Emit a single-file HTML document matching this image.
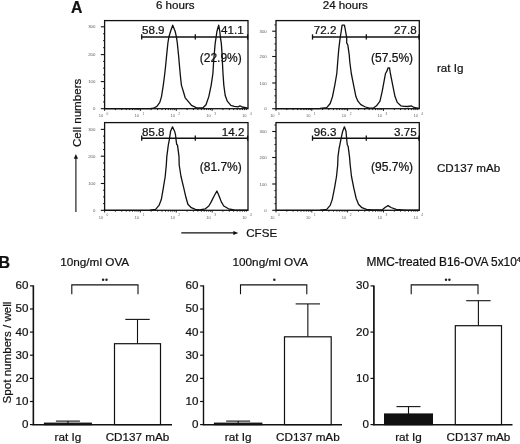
<!DOCTYPE html><html><head><meta charset="utf-8"><style>
html,body{margin:0;padding:0;background:#fff;overflow:hidden;width:520px;height:444px;}
svg{display:block;font-family:"Liberation Sans", sans-serif;will-change:transform;}
text{stroke:#111;stroke-width:0.22px;paint-order:stroke;} text.t{stroke:none;}
</style></head><body>
<svg width="520" height="444" viewBox="0 0 520 444">
<rect width="520" height="444" fill="#fff"/>
<text x="71.1" y="12.6" font-size="15.8" font-weight="bold" fill="#111">A</text>
<text x="175.3" y="8.6" font-size="11.6" text-anchor="middle" fill="#111">6 hours</text>
<text x="345.3" y="8.6" font-size="11.6" text-anchor="middle" fill="#111">24 hours</text>
<text x="437" y="72.3" font-size="11.6" fill="#111">rat Ig</text>
<text x="437" y="172.4" font-size="11.6" fill="#111">CD137 mAb</text>
<text transform="translate(81.2,147) rotate(-90)" font-size="11.6" fill="#111">Cell numbers</text>
<line x1="75.9" y1="212" x2="75.9" y2="158" stroke="#222" stroke-width="1.2"/>
<path d="M73.8,158.7 L75.9,154.0 L78.0,158.7 Z" fill="#111"/>
<line x1="181.3" y1="232.9" x2="234" y2="232.9" stroke="#111" stroke-width="1.4"/>
<path d="M233.3,230.9 L238.3,232.9 L233.3,234.9 Z" fill="#111"/>
<text x="246.2" y="237.3" font-size="11.6" fill="#111">CFSE</text>
<line x1="100.8" y1="26.8" x2="104.6" y2="26.8" stroke="#111" stroke-width="1.1"/>
<line x1="100.8" y1="54.6" x2="104.6" y2="54.6" stroke="#111" stroke-width="1.1"/>
<line x1="100.8" y1="81.6" x2="104.6" y2="81.6" stroke="#111" stroke-width="1.1"/>
<line x1="100.8" y1="108.7" x2="104.6" y2="108.7" stroke="#111" stroke-width="1.1"/>
<line x1="103.0" y1="33.8" x2="104.6" y2="33.8" stroke="#111" stroke-width="0.9"/>
<line x1="103.0" y1="40.7" x2="104.6" y2="40.7" stroke="#111" stroke-width="0.9"/>
<line x1="103.0" y1="47.7" x2="104.6" y2="47.7" stroke="#111" stroke-width="0.9"/>
<line x1="103.0" y1="61.4" x2="104.6" y2="61.4" stroke="#111" stroke-width="0.9"/>
<line x1="103.0" y1="68.1" x2="104.6" y2="68.1" stroke="#111" stroke-width="0.9"/>
<line x1="103.0" y1="74.8" x2="104.6" y2="74.8" stroke="#111" stroke-width="0.9"/>
<line x1="103.0" y1="88.4" x2="104.6" y2="88.4" stroke="#111" stroke-width="0.9"/>
<line x1="103.0" y1="95.2" x2="104.6" y2="95.2" stroke="#111" stroke-width="0.9"/>
<line x1="103.0" y1="101.9" x2="104.6" y2="101.9" stroke="#111" stroke-width="0.9"/>
<text x="95.3" y="28.3" class="t" font-size="4.3" text-anchor="end" fill="#555">300</text>
<text x="95.3" y="56.1" class="t" font-size="4.3" text-anchor="end" fill="#555">200</text>
<text x="95.3" y="83.1" class="t" font-size="4.3" text-anchor="end" fill="#555">100</text>
<text x="95.3" y="110.2" class="t" font-size="4.3" text-anchor="end" fill="#555">0</text>
<line x1="104.6" y1="108.7" x2="104.6" y2="110.9" stroke="#111" stroke-width="0.9"/>
<line x1="115.4" y1="108.7" x2="115.4" y2="110.10000000000001" stroke="#111" stroke-width="0.9"/>
<line x1="121.7" y1="108.7" x2="121.7" y2="110.10000000000001" stroke="#111" stroke-width="0.9"/>
<line x1="126.2" y1="108.7" x2="126.2" y2="110.10000000000001" stroke="#111" stroke-width="0.9"/>
<line x1="129.7" y1="108.7" x2="129.7" y2="110.10000000000001" stroke="#111" stroke-width="0.9"/>
<line x1="132.5" y1="108.7" x2="132.5" y2="110.10000000000001" stroke="#111" stroke-width="0.9"/>
<line x1="134.9" y1="108.7" x2="134.9" y2="110.10000000000001" stroke="#111" stroke-width="0.9"/>
<line x1="137.0" y1="108.7" x2="137.0" y2="110.10000000000001" stroke="#111" stroke-width="0.9"/>
<line x1="138.8" y1="108.7" x2="138.8" y2="110.10000000000001" stroke="#111" stroke-width="0.9"/>
<line x1="140.4" y1="108.7" x2="140.4" y2="110.9" stroke="#111" stroke-width="0.9"/>
<line x1="151.2" y1="108.7" x2="151.2" y2="110.10000000000001" stroke="#111" stroke-width="0.9"/>
<line x1="157.6" y1="108.7" x2="157.6" y2="110.10000000000001" stroke="#111" stroke-width="0.9"/>
<line x1="162.0" y1="108.7" x2="162.0" y2="110.10000000000001" stroke="#111" stroke-width="0.9"/>
<line x1="165.5" y1="108.7" x2="165.5" y2="110.10000000000001" stroke="#111" stroke-width="0.9"/>
<line x1="168.3" y1="108.7" x2="168.3" y2="110.10000000000001" stroke="#111" stroke-width="0.9"/>
<line x1="170.7" y1="108.7" x2="170.7" y2="110.10000000000001" stroke="#111" stroke-width="0.9"/>
<line x1="172.8" y1="108.7" x2="172.8" y2="110.10000000000001" stroke="#111" stroke-width="0.9"/>
<line x1="174.7" y1="108.7" x2="174.7" y2="110.10000000000001" stroke="#111" stroke-width="0.9"/>
<line x1="176.3" y1="108.7" x2="176.3" y2="110.9" stroke="#111" stroke-width="0.9"/>
<line x1="187.1" y1="108.7" x2="187.1" y2="110.10000000000001" stroke="#111" stroke-width="0.9"/>
<line x1="193.4" y1="108.7" x2="193.4" y2="110.10000000000001" stroke="#111" stroke-width="0.9"/>
<line x1="197.9" y1="108.7" x2="197.9" y2="110.10000000000001" stroke="#111" stroke-width="0.9"/>
<line x1="201.4" y1="108.7" x2="201.4" y2="110.10000000000001" stroke="#111" stroke-width="0.9"/>
<line x1="204.2" y1="108.7" x2="204.2" y2="110.10000000000001" stroke="#111" stroke-width="0.9"/>
<line x1="206.6" y1="108.7" x2="206.6" y2="110.10000000000001" stroke="#111" stroke-width="0.9"/>
<line x1="208.7" y1="108.7" x2="208.7" y2="110.10000000000001" stroke="#111" stroke-width="0.9"/>
<line x1="210.5" y1="108.7" x2="210.5" y2="110.10000000000001" stroke="#111" stroke-width="0.9"/>
<line x1="212.2" y1="108.7" x2="212.2" y2="110.9" stroke="#111" stroke-width="0.9"/>
<line x1="222.9" y1="108.7" x2="222.9" y2="110.10000000000001" stroke="#111" stroke-width="0.9"/>
<line x1="229.3" y1="108.7" x2="229.3" y2="110.10000000000001" stroke="#111" stroke-width="0.9"/>
<line x1="233.7" y1="108.7" x2="233.7" y2="110.10000000000001" stroke="#111" stroke-width="0.9"/>
<line x1="237.2" y1="108.7" x2="237.2" y2="110.10000000000001" stroke="#111" stroke-width="0.9"/>
<line x1="240.0" y1="108.7" x2="240.0" y2="110.10000000000001" stroke="#111" stroke-width="0.9"/>
<line x1="242.4" y1="108.7" x2="242.4" y2="110.10000000000001" stroke="#111" stroke-width="0.9"/>
<line x1="244.5" y1="108.7" x2="244.5" y2="110.10000000000001" stroke="#111" stroke-width="0.9"/>
<line x1="246.4" y1="108.7" x2="246.4" y2="110.10000000000001" stroke="#111" stroke-width="0.9"/>
<text x="103.19999999999999" y="117.0" class="t" font-size="4.0" text-anchor="end" fill="#666">10</text>
<text x="106.6" y="114.7" class="t" font-size="3.2" fill="#666">0</text>
<text x="139.04999999999998" y="117.0" class="t" font-size="4.0" text-anchor="end" fill="#666">10</text>
<text x="142.45" y="114.7" class="t" font-size="3.2" fill="#666">1</text>
<text x="174.9" y="117.0" class="t" font-size="4.0" text-anchor="end" fill="#666">10</text>
<text x="178.3" y="114.7" class="t" font-size="3.2" fill="#666">2</text>
<text x="210.75" y="117.0" class="t" font-size="4.0" text-anchor="end" fill="#666">10</text>
<text x="214.15" y="114.7" class="t" font-size="3.2" fill="#666">3</text>
<text x="246.6" y="117.0" class="t" font-size="4.0" text-anchor="end" fill="#666">10</text>
<text x="250.0" y="114.7" class="t" font-size="3.2" fill="#666">4</text>
<rect x="104.6" y="20.6" width="143.4" height="88.1" fill="none" stroke="#111" stroke-width="1.3"/>
<line x1="141.7" y1="37.0" x2="247.6" y2="37.0" stroke="#111" stroke-width="1.4"/>
<line x1="141.7" y1="34.3" x2="141.7" y2="39.6" stroke="#111" stroke-width="1.3"/>
<line x1="195.3" y1="34.3" x2="195.3" y2="39.6" stroke="#111" stroke-width="1.3"/>
<line x1="247.6" y1="34.3" x2="247.6" y2="39.6" stroke="#111" stroke-width="1.3"/>
<polyline points="104.6,108.7 150.0,108.6 153.5,108.2 156.9,106.4 159.8,102.4 161.5,96.6 163.3,85.1 164.6,75.0 165.6,66.0 166.7,54.6 167.9,43.0 168.8,37.3 170.5,31.5 172.7,25.2 175.2,31.5 176.5,37.3 177.3,43.0 178.5,54.6 179.5,66.0 180.3,75.0 181.4,85.1 183.5,92.0 185.2,97.8 188.0,101.2 191.5,105.3 196.2,107.6 203.0,107.8 206.0,104.7 208.8,96.6 211.2,85.1 212.9,73.5 213.6,62.0 214.2,54.6 215.2,43.1 216.1,37.3 216.9,31.5 218.7,25.2 219.8,31.5 220.4,37.3 221.3,43.1 222.1,54.6 222.4,62.0 223.0,73.5 223.8,85.1 225.2,95.5 227.3,101.2 230.8,105.3 234.2,106.4 238.0,106.8 240.0,105.8 242.0,107.0 245.8,107.6 248.0,108.4" fill="none" stroke="#111" stroke-width="1.3" stroke-linejoin="round"/>
<text x="142.0" y="34.3" font-size="11.6" fill="#111">58.9</text>
<text x="243.6" y="34.3" font-size="11.6" text-anchor="end" fill="#111">41.1</text>
<text x="241.8" y="62.3" font-size="12" text-anchor="end" fill="#111">(22.9%)</text>
<line x1="272.2" y1="31.2" x2="276.0" y2="31.2" stroke="#111" stroke-width="1.1"/>
<line x1="272.2" y1="56.5" x2="276.0" y2="56.5" stroke="#111" stroke-width="1.1"/>
<line x1="272.2" y1="83.0" x2="276.0" y2="83.0" stroke="#111" stroke-width="1.1"/>
<line x1="272.2" y1="108.7" x2="276.0" y2="108.7" stroke="#111" stroke-width="1.1"/>
<line x1="274.4" y1="37.5" x2="276.0" y2="37.5" stroke="#111" stroke-width="0.9"/>
<line x1="274.4" y1="43.9" x2="276.0" y2="43.9" stroke="#111" stroke-width="0.9"/>
<line x1="274.4" y1="50.2" x2="276.0" y2="50.2" stroke="#111" stroke-width="0.9"/>
<line x1="274.4" y1="63.1" x2="276.0" y2="63.1" stroke="#111" stroke-width="0.9"/>
<line x1="274.4" y1="69.8" x2="276.0" y2="69.8" stroke="#111" stroke-width="0.9"/>
<line x1="274.4" y1="76.4" x2="276.0" y2="76.4" stroke="#111" stroke-width="0.9"/>
<line x1="274.4" y1="89.4" x2="276.0" y2="89.4" stroke="#111" stroke-width="0.9"/>
<line x1="274.4" y1="95.8" x2="276.0" y2="95.8" stroke="#111" stroke-width="0.9"/>
<line x1="274.4" y1="102.3" x2="276.0" y2="102.3" stroke="#111" stroke-width="0.9"/>
<line x1="274.4" y1="24.9" x2="276.0" y2="24.9" stroke="#111" stroke-width="0.9"/>
<text x="266.7" y="32.7" class="t" font-size="4.3" text-anchor="end" fill="#555">300</text>
<text x="266.7" y="58.0" class="t" font-size="4.3" text-anchor="end" fill="#555">200</text>
<text x="266.7" y="84.5" class="t" font-size="4.3" text-anchor="end" fill="#555">100</text>
<text x="266.7" y="110.2" class="t" font-size="4.3" text-anchor="end" fill="#555">0</text>
<line x1="276.0" y1="108.7" x2="276.0" y2="110.9" stroke="#111" stroke-width="0.9"/>
<line x1="286.8" y1="108.7" x2="286.8" y2="110.10000000000001" stroke="#111" stroke-width="0.9"/>
<line x1="293.1" y1="108.7" x2="293.1" y2="110.10000000000001" stroke="#111" stroke-width="0.9"/>
<line x1="297.6" y1="108.7" x2="297.6" y2="110.10000000000001" stroke="#111" stroke-width="0.9"/>
<line x1="301.0" y1="108.7" x2="301.0" y2="110.10000000000001" stroke="#111" stroke-width="0.9"/>
<line x1="303.9" y1="108.7" x2="303.9" y2="110.10000000000001" stroke="#111" stroke-width="0.9"/>
<line x1="306.3" y1="108.7" x2="306.3" y2="110.10000000000001" stroke="#111" stroke-width="0.9"/>
<line x1="308.4" y1="108.7" x2="308.4" y2="110.10000000000001" stroke="#111" stroke-width="0.9"/>
<line x1="310.2" y1="108.7" x2="310.2" y2="110.10000000000001" stroke="#111" stroke-width="0.9"/>
<line x1="311.8" y1="108.7" x2="311.8" y2="110.9" stroke="#111" stroke-width="0.9"/>
<line x1="322.6" y1="108.7" x2="322.6" y2="110.10000000000001" stroke="#111" stroke-width="0.9"/>
<line x1="328.9" y1="108.7" x2="328.9" y2="110.10000000000001" stroke="#111" stroke-width="0.9"/>
<line x1="333.4" y1="108.7" x2="333.4" y2="110.10000000000001" stroke="#111" stroke-width="0.9"/>
<line x1="336.9" y1="108.7" x2="336.9" y2="110.10000000000001" stroke="#111" stroke-width="0.9"/>
<line x1="339.7" y1="108.7" x2="339.7" y2="110.10000000000001" stroke="#111" stroke-width="0.9"/>
<line x1="342.1" y1="108.7" x2="342.1" y2="110.10000000000001" stroke="#111" stroke-width="0.9"/>
<line x1="344.2" y1="108.7" x2="344.2" y2="110.10000000000001" stroke="#111" stroke-width="0.9"/>
<line x1="346.0" y1="108.7" x2="346.0" y2="110.10000000000001" stroke="#111" stroke-width="0.9"/>
<line x1="347.6" y1="108.7" x2="347.6" y2="110.9" stroke="#111" stroke-width="0.9"/>
<line x1="358.4" y1="108.7" x2="358.4" y2="110.10000000000001" stroke="#111" stroke-width="0.9"/>
<line x1="364.7" y1="108.7" x2="364.7" y2="110.10000000000001" stroke="#111" stroke-width="0.9"/>
<line x1="369.2" y1="108.7" x2="369.2" y2="110.10000000000001" stroke="#111" stroke-width="0.9"/>
<line x1="372.7" y1="108.7" x2="372.7" y2="110.10000000000001" stroke="#111" stroke-width="0.9"/>
<line x1="375.5" y1="108.7" x2="375.5" y2="110.10000000000001" stroke="#111" stroke-width="0.9"/>
<line x1="377.9" y1="108.7" x2="377.9" y2="110.10000000000001" stroke="#111" stroke-width="0.9"/>
<line x1="380.0" y1="108.7" x2="380.0" y2="110.10000000000001" stroke="#111" stroke-width="0.9"/>
<line x1="381.8" y1="108.7" x2="381.8" y2="110.10000000000001" stroke="#111" stroke-width="0.9"/>
<line x1="383.5" y1="108.7" x2="383.5" y2="110.9" stroke="#111" stroke-width="0.9"/>
<line x1="394.3" y1="108.7" x2="394.3" y2="110.10000000000001" stroke="#111" stroke-width="0.9"/>
<line x1="400.6" y1="108.7" x2="400.6" y2="110.10000000000001" stroke="#111" stroke-width="0.9"/>
<line x1="405.0" y1="108.7" x2="405.0" y2="110.10000000000001" stroke="#111" stroke-width="0.9"/>
<line x1="408.5" y1="108.7" x2="408.5" y2="110.10000000000001" stroke="#111" stroke-width="0.9"/>
<line x1="411.4" y1="108.7" x2="411.4" y2="110.10000000000001" stroke="#111" stroke-width="0.9"/>
<line x1="413.8" y1="108.7" x2="413.8" y2="110.10000000000001" stroke="#111" stroke-width="0.9"/>
<line x1="415.8" y1="108.7" x2="415.8" y2="110.10000000000001" stroke="#111" stroke-width="0.9"/>
<line x1="417.7" y1="108.7" x2="417.7" y2="110.10000000000001" stroke="#111" stroke-width="0.9"/>
<text x="274.6" y="117.0" class="t" font-size="4.0" text-anchor="end" fill="#666">10</text>
<text x="278.0" y="114.7" class="t" font-size="3.2" fill="#666">0</text>
<text x="310.425" y="117.0" class="t" font-size="4.0" text-anchor="end" fill="#666">10</text>
<text x="313.825" y="114.7" class="t" font-size="3.2" fill="#666">1</text>
<text x="346.25" y="117.0" class="t" font-size="4.0" text-anchor="end" fill="#666">10</text>
<text x="349.65" y="114.7" class="t" font-size="3.2" fill="#666">2</text>
<text x="382.07500000000005" y="117.0" class="t" font-size="4.0" text-anchor="end" fill="#666">10</text>
<text x="385.475" y="114.7" class="t" font-size="3.2" fill="#666">3</text>
<text x="417.90000000000003" y="117.0" class="t" font-size="4.0" text-anchor="end" fill="#666">10</text>
<text x="421.3" y="114.7" class="t" font-size="3.2" fill="#666">4</text>
<rect x="276.0" y="20.6" width="143.3" height="88.1" fill="none" stroke="#111" stroke-width="1.3"/>
<line x1="312.5" y1="37.0" x2="419.0" y2="37.0" stroke="#111" stroke-width="1.4"/>
<line x1="312.5" y1="34.3" x2="312.5" y2="39.6" stroke="#111" stroke-width="1.3"/>
<line x1="366.3" y1="34.3" x2="366.3" y2="39.6" stroke="#111" stroke-width="1.3"/>
<line x1="419.0" y1="34.3" x2="419.0" y2="39.6" stroke="#111" stroke-width="1.3"/>
<polyline points="276.0,108.7 320.0,108.5 326.7,107.6 330.2,103.5 332.5,96.6 334.8,85.1 336.8,73.5 337.7,62.0 338.8,48.8 340.2,37.3 341.2,31.5 342.1,25.2 344.4,25.2 345.0,28.0 346.0,33.8 346.7,37.3 346.7,43.0 347.8,44.8 349.2,54.6 349.8,62.0 351.3,73.5 353.6,85.1 355.9,96.6 357.9,101.2 360.8,104.7 365.4,107.0 369.4,108.2 373.1,108.2 376.5,105.8 380.0,101.2 382.3,90.8 384.4,79.3 385.5,73.5 386.9,71.2 388.1,67.8 389.5,67.8 390.4,73.5 392.7,85.1 395.0,96.6 397.3,102.4 400.8,105.8 404.2,106.4 408.0,106.5 411.2,105.8 414.0,107.5 419.0,108.4" fill="none" stroke="#111" stroke-width="1.3" stroke-linejoin="round"/>
<text x="313.8" y="34.3" font-size="11.6" fill="#111">72.2</text>
<text x="416.6" y="34.3" font-size="11.6" text-anchor="end" fill="#111">27.8</text>
<text x="413.1" y="62.3" font-size="12" text-anchor="end" fill="#111">(57.5%)</text>
<line x1="100.8" y1="129.4" x2="104.6" y2="129.4" stroke="#111" stroke-width="1.1"/>
<line x1="100.8" y1="156.2" x2="104.6" y2="156.2" stroke="#111" stroke-width="1.1"/>
<line x1="100.8" y1="183.5" x2="104.6" y2="183.5" stroke="#111" stroke-width="1.1"/>
<line x1="100.8" y1="210.3" x2="104.6" y2="210.3" stroke="#111" stroke-width="1.1"/>
<line x1="103.0" y1="136.1" x2="104.6" y2="136.1" stroke="#111" stroke-width="0.9"/>
<line x1="103.0" y1="142.8" x2="104.6" y2="142.8" stroke="#111" stroke-width="0.9"/>
<line x1="103.0" y1="149.5" x2="104.6" y2="149.5" stroke="#111" stroke-width="0.9"/>
<line x1="103.0" y1="163.0" x2="104.6" y2="163.0" stroke="#111" stroke-width="0.9"/>
<line x1="103.0" y1="169.8" x2="104.6" y2="169.8" stroke="#111" stroke-width="0.9"/>
<line x1="103.0" y1="176.7" x2="104.6" y2="176.7" stroke="#111" stroke-width="0.9"/>
<line x1="103.0" y1="190.2" x2="104.6" y2="190.2" stroke="#111" stroke-width="0.9"/>
<line x1="103.0" y1="196.9" x2="104.6" y2="196.9" stroke="#111" stroke-width="0.9"/>
<line x1="103.0" y1="203.6" x2="104.6" y2="203.6" stroke="#111" stroke-width="0.9"/>
<text x="95.3" y="130.9" class="t" font-size="4.3" text-anchor="end" fill="#555">300</text>
<text x="95.3" y="157.7" class="t" font-size="4.3" text-anchor="end" fill="#555">200</text>
<text x="95.3" y="185.0" class="t" font-size="4.3" text-anchor="end" fill="#555">100</text>
<text x="95.3" y="211.8" class="t" font-size="4.3" text-anchor="end" fill="#555">0</text>
<line x1="104.6" y1="210.3" x2="104.6" y2="212.5" stroke="#111" stroke-width="0.9"/>
<line x1="115.4" y1="210.3" x2="115.4" y2="211.70000000000002" stroke="#111" stroke-width="0.9"/>
<line x1="121.7" y1="210.3" x2="121.7" y2="211.70000000000002" stroke="#111" stroke-width="0.9"/>
<line x1="126.2" y1="210.3" x2="126.2" y2="211.70000000000002" stroke="#111" stroke-width="0.9"/>
<line x1="129.7" y1="210.3" x2="129.7" y2="211.70000000000002" stroke="#111" stroke-width="0.9"/>
<line x1="132.5" y1="210.3" x2="132.5" y2="211.70000000000002" stroke="#111" stroke-width="0.9"/>
<line x1="134.9" y1="210.3" x2="134.9" y2="211.70000000000002" stroke="#111" stroke-width="0.9"/>
<line x1="137.0" y1="210.3" x2="137.0" y2="211.70000000000002" stroke="#111" stroke-width="0.9"/>
<line x1="138.8" y1="210.3" x2="138.8" y2="211.70000000000002" stroke="#111" stroke-width="0.9"/>
<line x1="140.4" y1="210.3" x2="140.4" y2="212.5" stroke="#111" stroke-width="0.9"/>
<line x1="151.2" y1="210.3" x2="151.2" y2="211.70000000000002" stroke="#111" stroke-width="0.9"/>
<line x1="157.6" y1="210.3" x2="157.6" y2="211.70000000000002" stroke="#111" stroke-width="0.9"/>
<line x1="162.0" y1="210.3" x2="162.0" y2="211.70000000000002" stroke="#111" stroke-width="0.9"/>
<line x1="165.5" y1="210.3" x2="165.5" y2="211.70000000000002" stroke="#111" stroke-width="0.9"/>
<line x1="168.3" y1="210.3" x2="168.3" y2="211.70000000000002" stroke="#111" stroke-width="0.9"/>
<line x1="170.7" y1="210.3" x2="170.7" y2="211.70000000000002" stroke="#111" stroke-width="0.9"/>
<line x1="172.8" y1="210.3" x2="172.8" y2="211.70000000000002" stroke="#111" stroke-width="0.9"/>
<line x1="174.7" y1="210.3" x2="174.7" y2="211.70000000000002" stroke="#111" stroke-width="0.9"/>
<line x1="176.3" y1="210.3" x2="176.3" y2="212.5" stroke="#111" stroke-width="0.9"/>
<line x1="187.1" y1="210.3" x2="187.1" y2="211.70000000000002" stroke="#111" stroke-width="0.9"/>
<line x1="193.4" y1="210.3" x2="193.4" y2="211.70000000000002" stroke="#111" stroke-width="0.9"/>
<line x1="197.9" y1="210.3" x2="197.9" y2="211.70000000000002" stroke="#111" stroke-width="0.9"/>
<line x1="201.4" y1="210.3" x2="201.4" y2="211.70000000000002" stroke="#111" stroke-width="0.9"/>
<line x1="204.2" y1="210.3" x2="204.2" y2="211.70000000000002" stroke="#111" stroke-width="0.9"/>
<line x1="206.6" y1="210.3" x2="206.6" y2="211.70000000000002" stroke="#111" stroke-width="0.9"/>
<line x1="208.7" y1="210.3" x2="208.7" y2="211.70000000000002" stroke="#111" stroke-width="0.9"/>
<line x1="210.5" y1="210.3" x2="210.5" y2="211.70000000000002" stroke="#111" stroke-width="0.9"/>
<line x1="212.2" y1="210.3" x2="212.2" y2="212.5" stroke="#111" stroke-width="0.9"/>
<line x1="222.9" y1="210.3" x2="222.9" y2="211.70000000000002" stroke="#111" stroke-width="0.9"/>
<line x1="229.3" y1="210.3" x2="229.3" y2="211.70000000000002" stroke="#111" stroke-width="0.9"/>
<line x1="233.7" y1="210.3" x2="233.7" y2="211.70000000000002" stroke="#111" stroke-width="0.9"/>
<line x1="237.2" y1="210.3" x2="237.2" y2="211.70000000000002" stroke="#111" stroke-width="0.9"/>
<line x1="240.0" y1="210.3" x2="240.0" y2="211.70000000000002" stroke="#111" stroke-width="0.9"/>
<line x1="242.4" y1="210.3" x2="242.4" y2="211.70000000000002" stroke="#111" stroke-width="0.9"/>
<line x1="244.5" y1="210.3" x2="244.5" y2="211.70000000000002" stroke="#111" stroke-width="0.9"/>
<line x1="246.4" y1="210.3" x2="246.4" y2="211.70000000000002" stroke="#111" stroke-width="0.9"/>
<text x="103.19999999999999" y="218.60000000000002" class="t" font-size="4.0" text-anchor="end" fill="#666">10</text>
<text x="106.6" y="216.3" class="t" font-size="3.2" fill="#666">0</text>
<text x="139.04999999999998" y="218.60000000000002" class="t" font-size="4.0" text-anchor="end" fill="#666">10</text>
<text x="142.45" y="216.3" class="t" font-size="3.2" fill="#666">1</text>
<text x="174.9" y="218.60000000000002" class="t" font-size="4.0" text-anchor="end" fill="#666">10</text>
<text x="178.3" y="216.3" class="t" font-size="3.2" fill="#666">2</text>
<text x="210.75" y="218.60000000000002" class="t" font-size="4.0" text-anchor="end" fill="#666">10</text>
<text x="214.15" y="216.3" class="t" font-size="3.2" fill="#666">3</text>
<text x="246.6" y="218.60000000000002" class="t" font-size="4.0" text-anchor="end" fill="#666">10</text>
<text x="250.0" y="216.3" class="t" font-size="3.2" fill="#666">4</text>
<rect x="104.6" y="122.6" width="143.4" height="87.70000000000002" fill="none" stroke="#111" stroke-width="1.3"/>
<line x1="141.7" y1="138.2" x2="247.6" y2="138.2" stroke="#111" stroke-width="1.4"/>
<line x1="141.7" y1="135.5" x2="141.7" y2="140.79999999999998" stroke="#111" stroke-width="1.3"/>
<line x1="195.3" y1="135.5" x2="195.3" y2="140.79999999999998" stroke="#111" stroke-width="1.3"/>
<line x1="247.6" y1="135.5" x2="247.6" y2="140.79999999999998" stroke="#111" stroke-width="1.3"/>
<polyline points="104.6,210.3 150.0,210.2 155.6,209.4 159.0,205.4 161.3,199.6 163.3,188.1 165.2,176.5 166.3,165.0 166.8,156.6 168.3,145.1 169.4,139.3 170.6,131.2 172.5,126.8 174.6,131.2 175.5,134.7 176.0,139.3 176.7,144.5 177.5,145.1 179.0,156.6 179.2,165.0 181.0,176.5 183.8,188.1 185.9,197.3 187.9,204.2 191.3,207.7 195.4,209.4 199.6,210.0 205.4,208.8 208.8,206.0 211.2,201.9 214.0,196.2 216.9,191.0 219.2,196.2 221.3,201.9 223.8,206.0 228.5,208.8 234.2,210.0 248.0,210.2" fill="none" stroke="#111" stroke-width="1.3" stroke-linejoin="round"/>
<text x="142.0" y="135.5" font-size="11.6" fill="#111">85.8</text>
<text x="244.4" y="135.5" font-size="11.6" text-anchor="end" fill="#111">14.2</text>
<text x="241.8" y="171.4" font-size="12" text-anchor="end" fill="#111">(81.7%)</text>
<line x1="272.2" y1="131.5" x2="276.0" y2="131.5" stroke="#111" stroke-width="1.1"/>
<line x1="272.2" y1="157.5" x2="276.0" y2="157.5" stroke="#111" stroke-width="1.1"/>
<line x1="272.2" y1="184.0" x2="276.0" y2="184.0" stroke="#111" stroke-width="1.1"/>
<line x1="272.2" y1="210.3" x2="276.0" y2="210.3" stroke="#111" stroke-width="1.1"/>
<line x1="274.4" y1="138.0" x2="276.0" y2="138.0" stroke="#111" stroke-width="0.9"/>
<line x1="274.4" y1="144.5" x2="276.0" y2="144.5" stroke="#111" stroke-width="0.9"/>
<line x1="274.4" y1="151.0" x2="276.0" y2="151.0" stroke="#111" stroke-width="0.9"/>
<line x1="274.4" y1="164.1" x2="276.0" y2="164.1" stroke="#111" stroke-width="0.9"/>
<line x1="274.4" y1="170.8" x2="276.0" y2="170.8" stroke="#111" stroke-width="0.9"/>
<line x1="274.4" y1="177.4" x2="276.0" y2="177.4" stroke="#111" stroke-width="0.9"/>
<line x1="274.4" y1="190.6" x2="276.0" y2="190.6" stroke="#111" stroke-width="0.9"/>
<line x1="274.4" y1="197.2" x2="276.0" y2="197.2" stroke="#111" stroke-width="0.9"/>
<line x1="274.4" y1="203.7" x2="276.0" y2="203.7" stroke="#111" stroke-width="0.9"/>
<line x1="274.4" y1="125.0" x2="276.0" y2="125.0" stroke="#111" stroke-width="0.9"/>
<text x="266.7" y="133.0" class="t" font-size="4.3" text-anchor="end" fill="#555">300</text>
<text x="266.7" y="159.0" class="t" font-size="4.3" text-anchor="end" fill="#555">200</text>
<text x="266.7" y="185.5" class="t" font-size="4.3" text-anchor="end" fill="#555">100</text>
<text x="266.7" y="211.8" class="t" font-size="4.3" text-anchor="end" fill="#555">0</text>
<line x1="276.0" y1="210.3" x2="276.0" y2="212.5" stroke="#111" stroke-width="0.9"/>
<line x1="286.8" y1="210.3" x2="286.8" y2="211.70000000000002" stroke="#111" stroke-width="0.9"/>
<line x1="293.1" y1="210.3" x2="293.1" y2="211.70000000000002" stroke="#111" stroke-width="0.9"/>
<line x1="297.6" y1="210.3" x2="297.6" y2="211.70000000000002" stroke="#111" stroke-width="0.9"/>
<line x1="301.0" y1="210.3" x2="301.0" y2="211.70000000000002" stroke="#111" stroke-width="0.9"/>
<line x1="303.9" y1="210.3" x2="303.9" y2="211.70000000000002" stroke="#111" stroke-width="0.9"/>
<line x1="306.3" y1="210.3" x2="306.3" y2="211.70000000000002" stroke="#111" stroke-width="0.9"/>
<line x1="308.4" y1="210.3" x2="308.4" y2="211.70000000000002" stroke="#111" stroke-width="0.9"/>
<line x1="310.2" y1="210.3" x2="310.2" y2="211.70000000000002" stroke="#111" stroke-width="0.9"/>
<line x1="311.8" y1="210.3" x2="311.8" y2="212.5" stroke="#111" stroke-width="0.9"/>
<line x1="322.6" y1="210.3" x2="322.6" y2="211.70000000000002" stroke="#111" stroke-width="0.9"/>
<line x1="328.9" y1="210.3" x2="328.9" y2="211.70000000000002" stroke="#111" stroke-width="0.9"/>
<line x1="333.4" y1="210.3" x2="333.4" y2="211.70000000000002" stroke="#111" stroke-width="0.9"/>
<line x1="336.9" y1="210.3" x2="336.9" y2="211.70000000000002" stroke="#111" stroke-width="0.9"/>
<line x1="339.7" y1="210.3" x2="339.7" y2="211.70000000000002" stroke="#111" stroke-width="0.9"/>
<line x1="342.1" y1="210.3" x2="342.1" y2="211.70000000000002" stroke="#111" stroke-width="0.9"/>
<line x1="344.2" y1="210.3" x2="344.2" y2="211.70000000000002" stroke="#111" stroke-width="0.9"/>
<line x1="346.0" y1="210.3" x2="346.0" y2="211.70000000000002" stroke="#111" stroke-width="0.9"/>
<line x1="347.6" y1="210.3" x2="347.6" y2="212.5" stroke="#111" stroke-width="0.9"/>
<line x1="358.4" y1="210.3" x2="358.4" y2="211.70000000000002" stroke="#111" stroke-width="0.9"/>
<line x1="364.7" y1="210.3" x2="364.7" y2="211.70000000000002" stroke="#111" stroke-width="0.9"/>
<line x1="369.2" y1="210.3" x2="369.2" y2="211.70000000000002" stroke="#111" stroke-width="0.9"/>
<line x1="372.7" y1="210.3" x2="372.7" y2="211.70000000000002" stroke="#111" stroke-width="0.9"/>
<line x1="375.5" y1="210.3" x2="375.5" y2="211.70000000000002" stroke="#111" stroke-width="0.9"/>
<line x1="377.9" y1="210.3" x2="377.9" y2="211.70000000000002" stroke="#111" stroke-width="0.9"/>
<line x1="380.0" y1="210.3" x2="380.0" y2="211.70000000000002" stroke="#111" stroke-width="0.9"/>
<line x1="381.8" y1="210.3" x2="381.8" y2="211.70000000000002" stroke="#111" stroke-width="0.9"/>
<line x1="383.5" y1="210.3" x2="383.5" y2="212.5" stroke="#111" stroke-width="0.9"/>
<line x1="394.3" y1="210.3" x2="394.3" y2="211.70000000000002" stroke="#111" stroke-width="0.9"/>
<line x1="400.6" y1="210.3" x2="400.6" y2="211.70000000000002" stroke="#111" stroke-width="0.9"/>
<line x1="405.0" y1="210.3" x2="405.0" y2="211.70000000000002" stroke="#111" stroke-width="0.9"/>
<line x1="408.5" y1="210.3" x2="408.5" y2="211.70000000000002" stroke="#111" stroke-width="0.9"/>
<line x1="411.4" y1="210.3" x2="411.4" y2="211.70000000000002" stroke="#111" stroke-width="0.9"/>
<line x1="413.8" y1="210.3" x2="413.8" y2="211.70000000000002" stroke="#111" stroke-width="0.9"/>
<line x1="415.8" y1="210.3" x2="415.8" y2="211.70000000000002" stroke="#111" stroke-width="0.9"/>
<line x1="417.7" y1="210.3" x2="417.7" y2="211.70000000000002" stroke="#111" stroke-width="0.9"/>
<text x="274.6" y="218.60000000000002" class="t" font-size="4.0" text-anchor="end" fill="#666">10</text>
<text x="278.0" y="216.3" class="t" font-size="3.2" fill="#666">0</text>
<text x="310.425" y="218.60000000000002" class="t" font-size="4.0" text-anchor="end" fill="#666">10</text>
<text x="313.825" y="216.3" class="t" font-size="3.2" fill="#666">1</text>
<text x="346.25" y="218.60000000000002" class="t" font-size="4.0" text-anchor="end" fill="#666">10</text>
<text x="349.65" y="216.3" class="t" font-size="3.2" fill="#666">2</text>
<text x="382.07500000000005" y="218.60000000000002" class="t" font-size="4.0" text-anchor="end" fill="#666">10</text>
<text x="385.475" y="216.3" class="t" font-size="3.2" fill="#666">3</text>
<text x="417.90000000000003" y="218.60000000000002" class="t" font-size="4.0" text-anchor="end" fill="#666">10</text>
<text x="421.3" y="216.3" class="t" font-size="3.2" fill="#666">4</text>
<rect x="276.0" y="122.6" width="143.3" height="87.70000000000002" fill="none" stroke="#111" stroke-width="1.3"/>
<line x1="312.5" y1="138.2" x2="419.0" y2="138.2" stroke="#111" stroke-width="1.4"/>
<line x1="312.5" y1="135.5" x2="312.5" y2="140.79999999999998" stroke="#111" stroke-width="1.3"/>
<line x1="366.3" y1="135.5" x2="366.3" y2="140.79999999999998" stroke="#111" stroke-width="1.3"/>
<line x1="419.0" y1="135.5" x2="419.0" y2="140.79999999999998" stroke="#111" stroke-width="1.3"/>
<polyline points="276.0,210.3 320.0,210.2 326.7,209.4 330.2,205.4 332.2,199.6 334.5,188.1 336.5,176.5 337.7,165.0 338.0,156.6 339.1,148.5 339.8,145.1 340.9,139.3 342.7,131.2 344.4,126.8 346.0,131.2 346.7,139.3 347.2,144.5 348.1,146.2 349.5,156.6 350.2,165.0 351.5,176.5 353.8,188.1 356.2,198.5 358.5,204.2 361.9,207.7 366.5,209.4 372.0,210.0 382.3,209.8 385.0,207.5 388.1,205.6 391.0,207.5 396.2,209.4 405.0,210.1 419.0,210.2" fill="none" stroke="#111" stroke-width="1.3" stroke-linejoin="round"/>
<text x="313.8" y="135.5" font-size="11.6" fill="#111">96.3</text>
<text x="416.6" y="135.5" font-size="11.6" text-anchor="end" fill="#111">3.75</text>
<text x="413.1" y="171.4" font-size="12" text-anchor="end" fill="#111">(95.7%)</text>
<text x="-1.5" y="267.6" font-size="16" font-weight="bold" fill="#111">B</text>
<text transform="translate(10.6,403.4) rotate(-90)" font-size="11.6" fill="#111">Spot numbers / well</text>
<line x1="33.35" y1="285.4" x2="33.35" y2="425.20000000000005" stroke="#111" stroke-width="1.6"/>
<line x1="32.75" y1="424.8" x2="172" y2="424.8" stroke="#111" stroke-width="1.4"/>
<line x1="29.950000000000003" y1="424.6" x2="33.35" y2="424.6" stroke="#111" stroke-width="1.2"/>
<text x="28.35" y="428.0" font-size="11.6" text-anchor="end" fill="#111">0</text>
<line x1="29.950000000000003" y1="401.5" x2="33.35" y2="401.5" stroke="#111" stroke-width="1.2"/>
<text x="28.35" y="404.9" font-size="11.6" text-anchor="end" fill="#111">10</text>
<line x1="29.950000000000003" y1="378.4" x2="33.35" y2="378.4" stroke="#111" stroke-width="1.2"/>
<text x="28.35" y="381.8" font-size="11.6" text-anchor="end" fill="#111">20</text>
<line x1="29.950000000000003" y1="355.2" x2="33.35" y2="355.2" stroke="#111" stroke-width="1.2"/>
<text x="28.35" y="358.6" font-size="11.6" text-anchor="end" fill="#111">30</text>
<line x1="29.950000000000003" y1="332.1" x2="33.35" y2="332.1" stroke="#111" stroke-width="1.2"/>
<text x="28.35" y="335.5" font-size="11.6" text-anchor="end" fill="#111">40</text>
<line x1="29.950000000000003" y1="309.0" x2="33.35" y2="309.0" stroke="#111" stroke-width="1.2"/>
<text x="28.35" y="312.4" font-size="11.6" text-anchor="end" fill="#111">50</text>
<line x1="29.950000000000003" y1="285.9" x2="33.35" y2="285.9" stroke="#111" stroke-width="1.2"/>
<text x="28.35" y="289.3" font-size="11.6" text-anchor="end" fill="#111">60</text>
<text x="60.2" y="266.3" font-size="11.75" fill="#111">10ng/ml OVA</text>
<rect x="44.5" y="423.2" width="46.8" height="1.4" fill="#111" stroke="#111" stroke-width="1.2"/>
<line x1="67.9" y1="423.2" x2="67.9" y2="421.1" stroke="#111" stroke-width="1.1"/>
<line x1="55.900000000000006" y1="421.1" x2="79.9" y2="421.1" stroke="#111" stroke-width="1.1"/>
<line x1="137.5" y1="343.7" x2="137.5" y2="319.4" stroke="#111" stroke-width="1.1"/>
<line x1="125.3" y1="319.4" x2="149.7" y2="319.4" stroke="#111" stroke-width="1.1"/>
<rect x="114.5" y="343.7" width="46.0" height="80.9" fill="#fff" stroke="#111" stroke-width="1.2"/>
<text x="67.9" y="441.1" font-size="11.7" text-anchor="middle" fill="#111">rat Ig</text>
<text x="137.5" y="441.1" font-size="11.7" text-anchor="middle" fill="#111">CD137 mAb</text>
<polyline points="71.8,294.3 71.8,284.9 138,284.9 138,294.3" fill="none" stroke="#111" stroke-width="1.1"/>
<circle cx="103.1" cy="279.8" r="1.25" fill="#222"/>
<circle cx="106.5" cy="279.8" r="1.25" fill="#222"/>
<line x1="203.5" y1="285.4" x2="203.5" y2="425.20000000000005" stroke="#111" stroke-width="1.4"/>
<line x1="202.9" y1="424.8" x2="342" y2="424.8" stroke="#111" stroke-width="1.4"/>
<line x1="200.1" y1="424.6" x2="203.5" y2="424.6" stroke="#111" stroke-width="1.2"/>
<text x="198.5" y="428.0" font-size="11.6" text-anchor="end" fill="#111">0</text>
<line x1="200.1" y1="401.5" x2="203.5" y2="401.5" stroke="#111" stroke-width="1.2"/>
<text x="198.5" y="404.9" font-size="11.6" text-anchor="end" fill="#111">10</text>
<line x1="200.1" y1="378.4" x2="203.5" y2="378.4" stroke="#111" stroke-width="1.2"/>
<text x="198.5" y="381.8" font-size="11.6" text-anchor="end" fill="#111">20</text>
<line x1="200.1" y1="355.2" x2="203.5" y2="355.2" stroke="#111" stroke-width="1.2"/>
<text x="198.5" y="358.6" font-size="11.6" text-anchor="end" fill="#111">30</text>
<line x1="200.1" y1="332.1" x2="203.5" y2="332.1" stroke="#111" stroke-width="1.2"/>
<text x="198.5" y="335.5" font-size="11.6" text-anchor="end" fill="#111">40</text>
<line x1="200.1" y1="309.0" x2="203.5" y2="309.0" stroke="#111" stroke-width="1.2"/>
<text x="198.5" y="312.4" font-size="11.6" text-anchor="end" fill="#111">50</text>
<line x1="200.1" y1="285.9" x2="203.5" y2="285.9" stroke="#111" stroke-width="1.2"/>
<text x="198.5" y="289.3" font-size="11.6" text-anchor="end" fill="#111">60</text>
<text x="232.5" y="266.3" font-size="11.75" fill="#111">100ng/ml OVA</text>
<rect x="214.5" y="423.2" width="47.30000000000001" height="1.4" fill="#111" stroke="#111" stroke-width="1.2"/>
<line x1="238.15" y1="423.2" x2="238.15" y2="421.1" stroke="#111" stroke-width="1.1"/>
<line x1="226.15" y1="421.1" x2="250.15" y2="421.1" stroke="#111" stroke-width="1.1"/>
<line x1="307.85" y1="336.8" x2="307.85" y2="303.9" stroke="#111" stroke-width="1.1"/>
<line x1="295.65000000000003" y1="303.9" x2="320.05" y2="303.9" stroke="#111" stroke-width="1.1"/>
<rect x="284.5" y="336.8" width="46.69999999999999" height="87.8" fill="#fff" stroke="#111" stroke-width="1.2"/>
<text x="238.15" y="441.1" font-size="11.7" text-anchor="middle" fill="#111">rat Ig</text>
<text x="307.85" y="441.1" font-size="11.7" text-anchor="middle" fill="#111">CD137 mAb</text>
<polyline points="240.5,294.3 240.5,284.9 306.8,284.9 306.8,294.3" fill="none" stroke="#111" stroke-width="1.1"/>
<circle cx="274.3" cy="279.8" r="1.25" fill="#222"/>
<line x1="373.9" y1="285.4" x2="373.9" y2="425.20000000000005" stroke="#111" stroke-width="1.7"/>
<line x1="373.29999999999995" y1="424.8" x2="512.5" y2="424.8" stroke="#111" stroke-width="1.4"/>
<line x1="370.5" y1="424.6" x2="373.9" y2="424.6" stroke="#111" stroke-width="1.2"/>
<text x="368.9" y="428.0" font-size="11.6" text-anchor="end" fill="#111">0</text>
<line x1="370.5" y1="378.4" x2="373.9" y2="378.4" stroke="#111" stroke-width="1.2"/>
<text x="368.9" y="381.8" font-size="11.6" text-anchor="end" fill="#111">10</text>
<line x1="370.5" y1="332.1" x2="373.9" y2="332.1" stroke="#111" stroke-width="1.2"/>
<text x="368.9" y="335.5" font-size="11.6" text-anchor="end" fill="#111">20</text>
<line x1="370.5" y1="285.9" x2="373.9" y2="285.9" stroke="#111" stroke-width="1.2"/>
<text x="368.9" y="289.3" font-size="11.6" text-anchor="end" fill="#111">30</text>
<text x="366.4" y="266.2" font-size="11.9" fill="#111">MMC-treated B16-OVA 5x10<tspan font-size="7.2" dy="-4.6">4</tspan></text>
<rect x="384.6" y="414.0" width="47.799999999999955" height="10.6" fill="#111" stroke="#111" stroke-width="1.2"/>
<line x1="408.5" y1="414.0" x2="408.5" y2="406.6" stroke="#111" stroke-width="1.1"/>
<line x1="396.5" y1="406.6" x2="420.5" y2="406.6" stroke="#111" stroke-width="1.1"/>
<line x1="478.4" y1="325.7" x2="478.4" y2="300.7" stroke="#111" stroke-width="1.1"/>
<line x1="466.2" y1="300.7" x2="490.59999999999997" y2="300.7" stroke="#111" stroke-width="1.1"/>
<rect x="455.3" y="325.7" width="46.19999999999999" height="98.9" fill="#fff" stroke="#111" stroke-width="1.2"/>
<text x="408.5" y="441.1" font-size="11.7" text-anchor="middle" fill="#111">rat Ig</text>
<text x="478.4" y="441.1" font-size="11.7" text-anchor="middle" fill="#111">CD137 mAb</text>
<polyline points="411.2,294.3 411.2,284.9 478,284.9 478,294.3" fill="none" stroke="#111" stroke-width="1.1"/>
<circle cx="446.0" cy="279.8" r="1.25" fill="#222"/>
<circle cx="449.4" cy="279.8" r="1.25" fill="#222"/>
</svg></body></html>
